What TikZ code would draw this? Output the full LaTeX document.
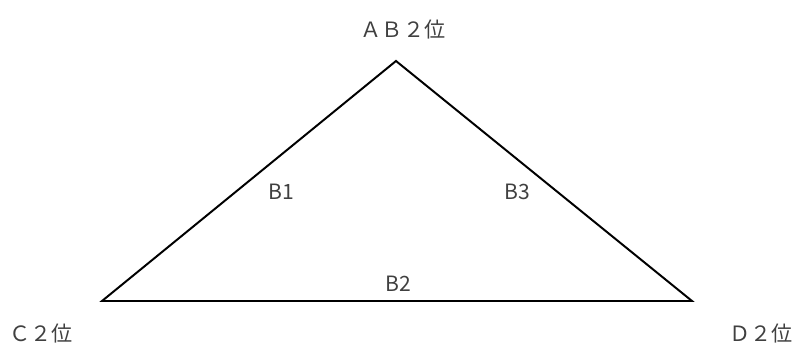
\documentclass[tikz,border=0pt]{standalone}
\usepackage{fontspec}
\setmainfont{Noto Sans CJK JP}
\usepackage{tikz}
\usetikzlibrary{positioning}
\definecolor{labelgray}{HTML}{404040}
\tikzset{
    place/.style = {text=labelgray, font=\fontsize{15}{17}\selectfont, inner sep=0pt},
    edgelabel/.style = {text=labelgray, font=\fontsize{15}{17}\selectfont, inner sep=0pt},
    side/.style = {line width=1.4pt, line join=miter}
}

\begin{document}
\begin{tikzpicture}[x=0.025cm, y=-0.025cm]
    \useasboundingbox (0,0) rectangle (798,347);
    % corners of the triangle
    \coordinate (top)   at (396,61);
    \coordinate (left)  at (102,301);
    \coordinate (right) at (692,301);
    \node (ab) [place] at (403,29)  {ＡＢ２位};
    \node (c)  [place] at (41,333)  {Ｃ２位};
    \node (d)  [place] at (761,333) {Ｄ２位};
    \node (b1) [edgelabel] at (281,192) {B1};
    \node (b3) [edgelabel] at (517,192) {B3};
    \node (b2) [edgelabel] at (398,284) {B2};
    \draw [side] (top) -- (left) -- (right) -- cycle;
\end{tikzpicture}
\end{document}
